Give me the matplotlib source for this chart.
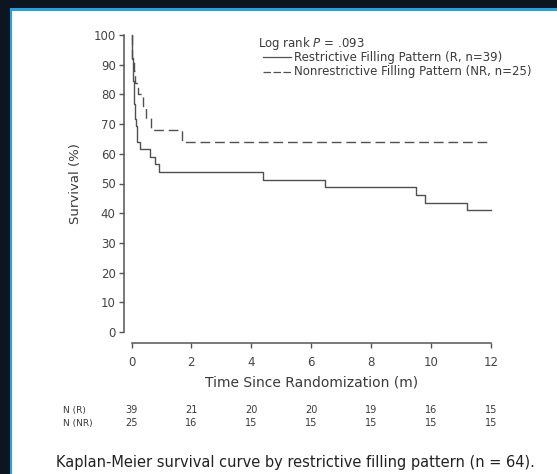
import matplotlib
matplotlib.use('Agg')
import matplotlib.pyplot as plt
from matplotlib.patches import Rectangle
from matplotlib.lines import Line2D

# Kaplan-Meier steps (months, survival %)
r_times = [0, 0.01, 0.02, 0.03, 0.04, 0.05, 0.06, 0.08, 0.09, 0.10, 0.12, 0.13, 0.15, 0.17, 0.19,
           0.30, 0.62, 0.80, 0.93, 4.39, 6.47, 9.49, 9.81, 11.21, 12]
r_surv = [100, 97.4, 94.9, 92.3, 89.7, 87.2, 84.6, 82.1, 79.5, 76.9, 74.4, 71.8, 69.2, 66.7, 64.1,
          61.5, 59.0, 56.4, 53.8, 51.3, 48.7, 46.2, 43.6, 41.0, 41.0]
nr_times = [0, 0.01, 0.03, 0.08, 0.12, 0.23, 0.38, 0.47, 0.65, 1.68, 12]
nr_surv = [100, 96, 92, 88, 84, 80, 76, 72, 68, 64, 64]

risk_times = [0, 2, 4, 6, 8, 10, 12]
risk_r = [39, 21, 20, 20, 19, 16, 15]
risk_nr = [25, 16, 15, 15, 15, 15, 15]

W, H = 557, 474
def fx(px):
    return px / W
def fy(py):
    return 1 - py / H

ink = '#3a3a3a'
line_col = '#505050'

fig = plt.figure(figsize=(5.57, 4.74), dpi=100, facecolor='#0c1520')
fig.patches.append(Rectangle((fx(10), 0), 1, fy(8), transform=fig.transFigure,
                             facecolor='#1aa5e4', edgecolor='none', zorder=-2))
fig.patches.append(Rectangle((fx(12), 0), 1, fy(11), transform=fig.transFigure,
                             facecolor='white', edgecolor='none', zorder=-1))

ax = fig.add_axes([fx(131.5), fy(332), fx(490.7) - fx(131.5), fy(35) - fy(332)])
ax.set_facecolor('none')

ax.step(r_times, r_surv, where='post', color=line_col, lw=1.0, clip_on=False)
ax.step(nr_times, nr_surv, where='post', color=line_col, lw=1.0, clip_on=False,
        dashes=(7, 3.5))

ax.set_xlim(0, 12)
ax.set_ylim(0, 100)
ax.set_xticks(range(0, 13, 2))
ax.set_yticks(range(0, 101, 10))

for s in ['top', 'right']:
    ax.spines[s].set_visible(False)
ax.spines['left'].set_position(('outward', 5.4))
ax.spines['bottom'].set_position(('outward', 7.9))
ax.spines['left'].set_bounds(0, 100)
ax.spines['bottom'].set_bounds(0, 12)
for s in ['left', 'bottom']:
    ax.spines[s].set_color('#555555')
    ax.spines[s].set_linewidth(1.1)

ax.tick_params(axis='y', length=3.5, width=1, color='#555555', labelsize=8.5,
               labelcolor='#444444', pad=2.5)
ax.tick_params(axis='x', length=3.6, width=1, color='#555555', labelsize=8.5,
               labelcolor='#444444', pad=5.5)

ax.set_xlabel('Time Since Randomization (m)', fontsize=10, color=ink, labelpad=5)
ax.set_ylabel('Survival (%)', fontsize=9.5, color=ink, labelpad=8)

# legend block
fig.text(fx(257.5), fy(43), 'Log rank $P$ = .093', fontsize=8.5, color=ink, va='center')
fig.add_artist(Line2D([fx(263), fx(291)], [fy(57), fy(57)], color=line_col, lw=0.9,
                      transform=fig.transFigure))
fig.add_artist(Line2D([fx(263), fx(291)], [fy(71.7), fy(71.7)], color=line_col, lw=0.9,
                      dashes=(6, 2), transform=fig.transFigure))
fig.text(fx(294), fy(57), 'Restrictive Filling Pattern (R, n=39)', fontsize=8.5,
         color=ink, va='center')
fig.text(fx(294), fy(71.7), 'Nonrestrictive Filling Pattern (NR, n=25)', fontsize=8.5,
         color=ink, va='center')

# number at risk
fig.text(fx(63), fy(410), 'N (R)', fontsize=6.5, color=ink, va='center')
fig.text(fx(63), fy(423.5), 'N (NR)', fontsize=6.5, color=ink, va='center')
for t, a, b in zip(risk_times, risk_r, risk_nr):
    xf = ax.transData.transform((t, 0))[0] / (W)
    fig.text(xf, fy(410), str(a), fontsize=7, color=ink, va='center', ha='center')
    fig.text(xf, fy(423.5), str(b), fontsize=7, color=ink, va='center', ha='center')

fig.text(fx(295), fy(462), 'Kaplan-Meier survival curve by restrictive filling pattern (n = 64).',
         fontsize=10.5, color='#222222', va='center', ha='center')

fig.savefig('out.png', dpi=100, facecolor=fig.get_facecolor())
